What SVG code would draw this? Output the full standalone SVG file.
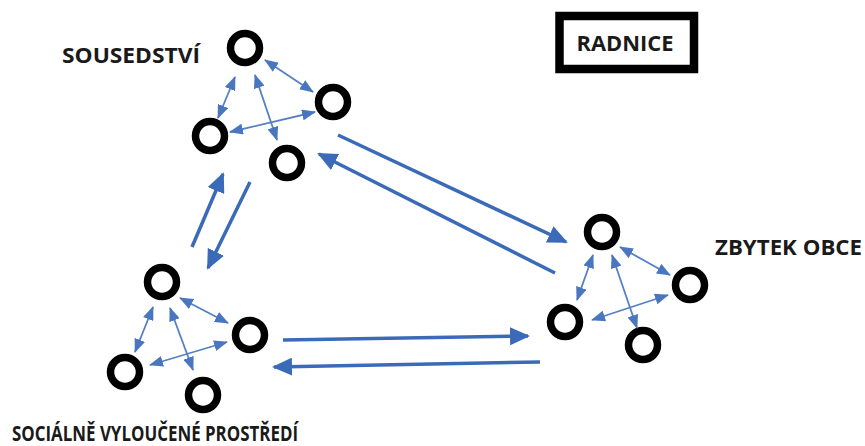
<svg xmlns="http://www.w3.org/2000/svg" width="865" height="446" viewBox="0 0 865 446">
<style>
.node{fill:none;stroke:#000;stroke-width:7.5}
.lbl{font-family:"Open Sans","Liberation Sans",sans-serif;font-weight:bold;font-size:20.5px;fill:#1a1a1a}
.big{stroke:#3b6bb8;stroke-width:3.5;fill:none;marker-end:url(#bigHead)}
.small{stroke:#5580c4;stroke-width:1.8;fill:none;marker-start:url(#smallHead);marker-end:url(#smallHead)}
</style>
<defs>
<marker id="bigHead" markerUnits="userSpaceOnUse" markerWidth="20" markerHeight="18" viewBox="0 0 20 18" refX="18" refY="9" orient="auto">
<path d="M0,0 L20,9 L0,18 z" fill="#3b6bb8"/>
</marker>
<marker id="smallHead" markerUnits="userSpaceOnUse" markerWidth="14" markerHeight="11" viewBox="0 0 14 11" refX="13" refY="5.5" orient="auto-start-reverse">
<path d="M0,0 L14,5.5 L0,11 z" fill="#4a76c0"/>
</marker>
</defs>
<rect width="865" height="446" fill="#fff"/>

<g id="radnice">
<rect x="559.5" y="16" width="134.5" height="53" fill="#fff" stroke="#000" stroke-width="8.5"/>
<text class="lbl" x="625" y="50.5" text-anchor="middle" textLength="97" lengthAdjust="spacingAndGlyphs">RADNICE</text>
</g>

<g id="sousedstvi">
<text class="lbl" x="62" y="63" textLength="138" lengthAdjust="spacingAndGlyphs">SOUSEDSTVÍ</text>
<circle class="node" cx="245" cy="48" r="14.5"/>
<circle class="node" cx="333" cy="102" r="14.5"/>
<circle class="node" cx="210" cy="136" r="14.5"/>
<circle class="node" cx="287" cy="163" r="14.5"/>
</g>

<g id="socialne-vyloucene">
<text class="lbl" x="12" y="441" textLength="286" lengthAdjust="spacingAndGlyphs">SOCIÁLNĚ VYLOUČENÉ PROSTŘEDÍ</text>
<circle class="node" cx="162" cy="282" r="14.5"/>
<circle class="node" cx="250" cy="335" r="14.5"/>
<circle class="node" cx="125" cy="372" r="14.5"/>
<circle class="node" cx="203" cy="395" r="14.5"/>
</g>

<g id="zbytek-obce">
<text class="lbl" x="715" y="255" textLength="147" lengthAdjust="spacingAndGlyphs">ZBYTEK OBCE</text>
<circle class="node" cx="602" cy="232" r="14.5"/>
<circle class="node" cx="690" cy="285" r="14.5"/>
<circle class="node" cx="565" cy="322" r="14.5"/>
<circle class="node" cx="643" cy="345" r="14.5"/>
</g>

<g id="connectors">
<line class="big" x1="192" y1="247" x2="223" y2="174"/>
<line class="big" x1="250" y1="182" x2="208" y2="268"/>
<line class="big" x1="338" y1="135" x2="566" y2="242"/>
<line class="big" x1="555" y1="273" x2="319" y2="154"/>
<line class="big" x1="283" y1="340" x2="528" y2="336"/>
<line class="big" x1="540" y1="362" x2="274" y2="367"/>

<line class="small" x1="235" y1="77" x2="218" y2="118"/>
<line class="small" x1="255" y1="75" x2="277" y2="140"/>
<line class="small" x1="265" y1="60" x2="313" y2="92"/>
<line class="small" x1="315" y1="112" x2="230" y2="132"/>

<line class="small" x1="153" y1="307" x2="135" y2="352"/>
<line class="small" x1="170" y1="308" x2="193" y2="370"/>
<line class="small" x1="180" y1="298" x2="228" y2="323"/>
<line class="small" x1="227" y1="342" x2="150" y2="365"/>

<line class="small" x1="593" y1="255" x2="577" y2="300"/>
<line class="small" x1="612" y1="255" x2="637" y2="328"/>
<line class="small" x1="620" y1="247" x2="670" y2="275"/>
<line class="small" x1="668" y1="295" x2="592" y2="320"/>
</g>
</svg>
